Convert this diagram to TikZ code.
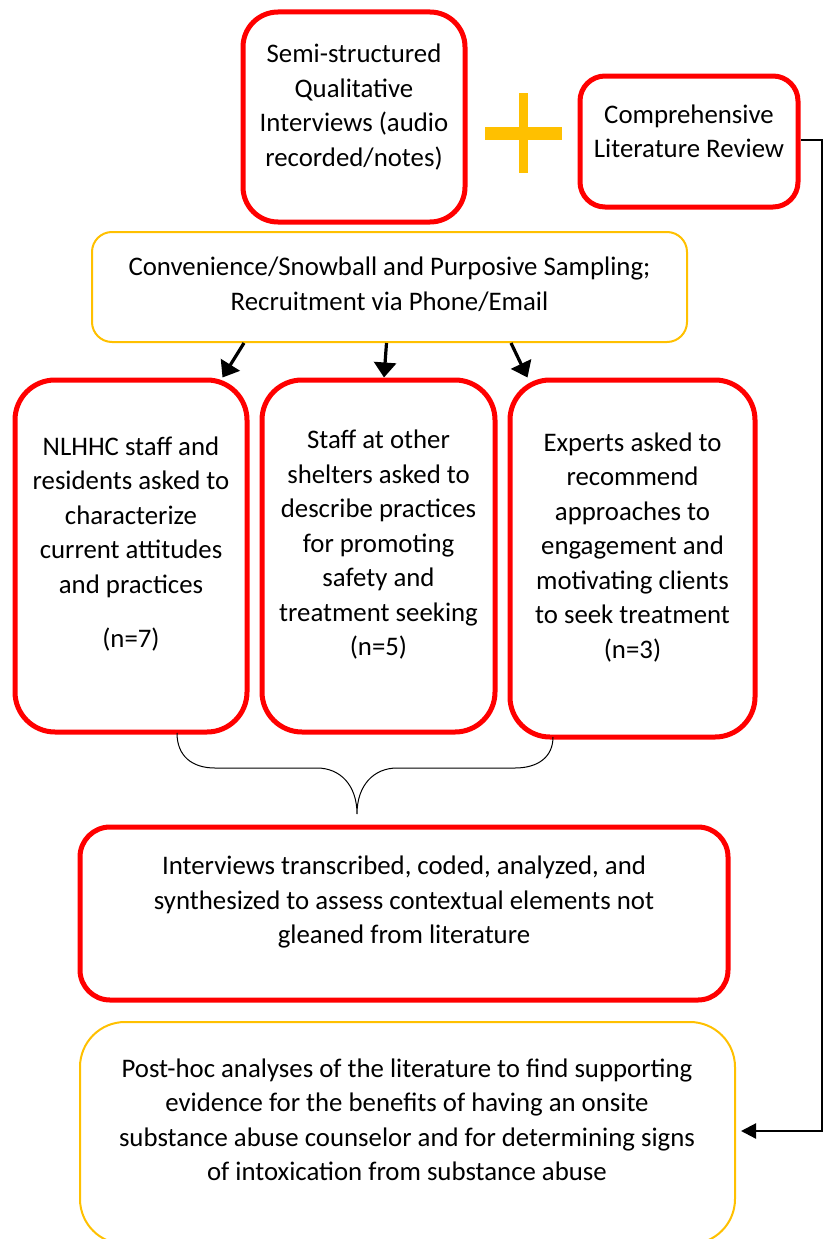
\documentclass[tikz,border=0pt]{standalone}
\usepackage{fontspec}
\setmainfont{Carlito}
\usetikzlibrary{arrows.meta,calc}
\definecolor{bred}{HTML}{FF0000}
\definecolor{byel}{HTML}{FFC000}
\tikzset{
  redbox/.style={draw=bred,line width=5pt,rounded corners=#1,inner sep=0pt},
  yelbox/.style={draw=byel,line width=2pt,rounded corners=#1,inner sep=0pt},
  txt/.style={align=center,font=\fontsize{26.8}{34.5}\selectfont,inner sep=0pt},
  conn/.style={line width=3.2pt,-{Triangle[width=22pt,length=15pt]}},
  rconn/.style={line width=2.2pt,-{Triangle[width=15pt,length=15pt]}},
}
\begin{document}
\begin{tikzpicture}[x=1pt,y=-1pt]
\useasboundingbox (0,0) rectangle (830,1239);
\clip (0,0) rectangle (830,1239);
% top boxes
\node[redbox=35pt,minimum width=222pt,minimum height=210pt] (semi) at (354,117) {};
\node[txt] (semit) at (354,107) {Semi-structured\\Qualitative\\Interviews (audio\\recorded/notes)};
\fill[byel] (485,127) rectangle (562,140);
\fill[byel] (519,93) rectangle (528,173);
\node[redbox=25pt,minimum width=218pt,minimum height=131pt] (lit) at (689,141.5) {};
\node[txt] (litt) at (689,131.5) {Comprehensive\\Literature Review};
% convenience
\node[yelbox=20pt,minimum width=595pt,minimum height=110pt] (conv) at (389.5,287) {};
\node[txt] (convt) at (389.5,284.5) {Convenience/Snowball and Purposive Sampling;\\Recruitment via Phone/Email};
% three boxes
\node[redbox=40pt,minimum width=232pt,minimum height=352pt] (bl) at (131,556) {};
\node[txt] (blt) at (131,517) {NLHHC staff and\\residents asked to\\characterize\\current attitudes\\and practices};
\node[txt] (bln) at (131,640) {(n=7)};
\node[redbox=40pt,minimum width=233pt,minimum height=352pt] (bm) at (378.5,556) {};
\node[txt] (bmt) at (378.5,545) {Staff at other\\shelters asked to\\describe practices\\for promoting\\safety and\\treatment seeking\\(n=5)};
\node[redbox=40pt,minimum width=245pt,minimum height=357pt] (br) at (632.5,558.5) {};
\node[txt] (brt) at (632.5,547.5) {Experts asked to\\recommend\\approaches to\\engagement and\\motivating clients\\to seek treatment\\(n=3)};
% arrows
\draw[conn] ($(conv.south west)+(153,0)$) -- ($(bl.north west)+(210,0)$);
\draw[conn] ($(conv.south west)+(295.5,0)$) -- ($(bm.north west)+(124.5,0)$);
\draw[conn] ($(conv.south west)+(420,0)$) -- ($(br.north west)+(20,0)$);
% brace
\draw[line width=1pt] (177,733) .. controls (177,756) and (192,768) .. (215,768) -- (317,768)
  .. controls (340,768) and (357,785) .. (357,814)
  .. controls (357,785) and (374,768) .. (397,768) -- (515,768)
  .. controls (538,768) and (553,757) .. (553,737);
% interviews
\node[redbox=30pt,minimum width=648pt,minimum height=173pt] (intv) at (404,913.5) {};
\node[txt] (intvt) at (404,902) {Interviews transcribed, coded, analyzed, and\\synthesized to assess contextual elements not\\gleaned from literature};
% bottom
\node[yelbox=45pt,minimum width=655pt,minimum height=222pt] (post) at (407.5,1133) {};
\node[txt] (postt) at (407,1120) {Post-hoc analyses of the literature to find supporting\\evidence for the benefits of having an onsite\\substance abuse counselor and for determining signs\\of intoxication from substance abuse};
% right connector
\coordinate (rc) at (822,140);
\draw[rconn] ($(lit.east)+(0,-1.5)$) -- (rc) |- ($(post.east)+(5,-2)$);
\end{tikzpicture}
\end{document}
